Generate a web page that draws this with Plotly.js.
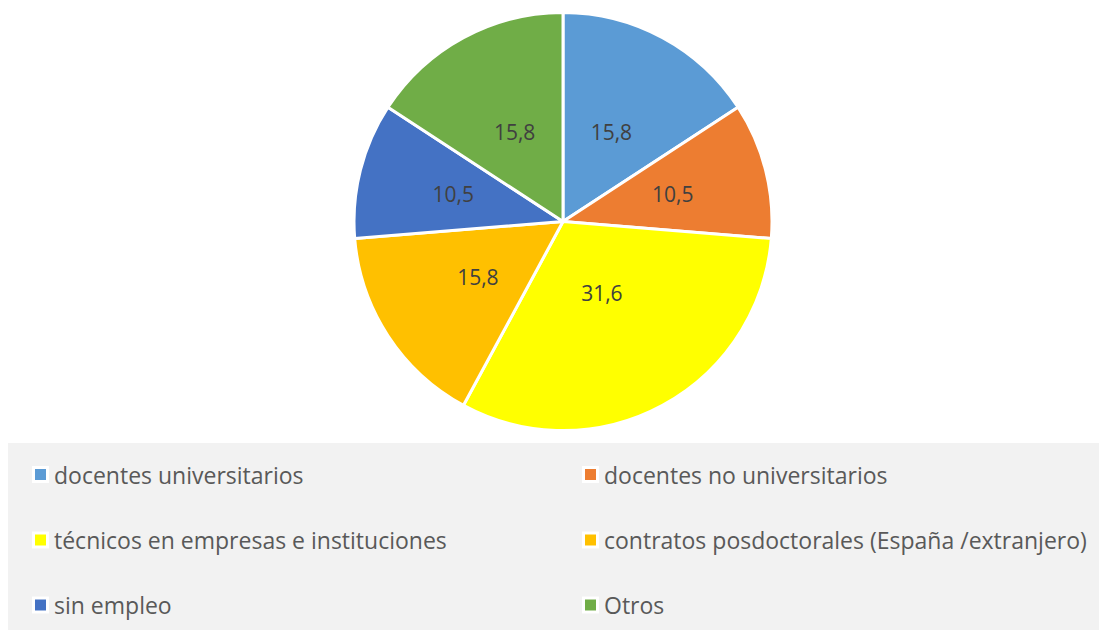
<!DOCTYPE html>
<html>
<head>
<meta charset="utf-8">
<script src="https://cdn.plot.ly/plotly-3.0.1.min.js"></script>
<style>html,body{margin:0;padding:0;background:#fff;}#chart{width:1099px;height:630px;}</style>
</head>
<body>
<div id="chart"></div>
<script>
const categories = [
  "docentes universitarios",
  "docentes no universitarios",
  "técnicos en empresas e instituciones",
  "contratos posdoctorales (España /extranjero)",
  "sin empleo",
  "Otros"
];
const values = [15.8, 10.5, 31.6, 15.8, 10.5, 15.8];
const colors = ["#5B9BD5", "#ED7D31", "#FFFF00", "#FFC000", "#4472C4", "#70AD47"];

const W = 1099, H = 630;
const FONT = "'Open Sans', Lato, sans-serif";
const CX = 563, CY = 221.5, R = 209, RL = 150;

// main pie: the slices
const pieTrace = {
  type: "pie",
  labels: categories,
  values: values,
  sort: false,
  direction: "clockwise",
  rotation: 0,
  marker: { colors: colors, line: { color: "#ffffff", width: 3 } },
  textinfo: "none",
  hoverinfo: "label+value",
  domain: { x: [(CX - R) / W, (CX + R) / W], y: [1 - (CY + R) / H, 1 - (CY - R) / H] },
  showlegend: false
};

// transparent overlay pie carrying the data labels closer to the centre (Excel style)
const labelTrace = {
  type: "pie",
  labels: categories,
  values: values,
  sort: false,
  direction: "clockwise",
  rotation: 0,
  marker: { colors: categories.map(() => "rgba(0,0,0,0)"), line: { width: 0 } },
  texttemplate: "%{value:.1f}",
  textposition: "inside",
  insidetextorientation: "horizontal",
  textfont: { family: FONT, size: 21, color: "#404040" },
  hoverinfo: "skip",
  domain: { x: [(CX - RL) / W, (CX + RL) / W], y: [1 - (CY + RL) / H, 1 - (CY - RL) / H] },
  showlegend: false
};

// legend built from categories/colors
const shapes = [{
  type: "rect", xref: "paper", yref: "paper",
  x0: 8 / W, x1: 1, y0: 0, y1: 1 - 443 / H,
  fillcolor: "#F2F2F2", line: { width: 0 }, layer: "below"
}];
const annotations = [];
const colX = [40.5, 590.5];
const rowY = [474.5, 540, 605];
categories.forEach((c, i) => {
  const cx = colX[i % 2], cy = rowY[Math.floor(i / 2)];
  shapes.push({
    type: "rect", xref: "paper", yref: "paper",
    x0: (cx - 8.5) / W, x1: (cx + 8.5) / W,
    y0: 1 - (cy + 8.5) / H, y1: 1 - (cy - 8.5) / H,
    fillcolor: "#ffffff", line: { width: 0 }
  });
  shapes.push({
    type: "rect", xref: "paper", yref: "paper",
    x0: (cx - 5.5) / W, x1: (cx + 5.5) / W,
    y0: 1 - (cy + 5.5) / H, y1: 1 - (cy - 5.5) / H,
    fillcolor: colors[i], line: { width: 0 }
  });
  annotations.push({
    xref: "paper", yref: "paper",
    x: (cx + 11) / W, y: 1 - cy / H,
    xanchor: "left", yanchor: "middle",
    text: c, showarrow: false,
    font: { family: FONT, size: 23, color: "#595959" }
  });
});

const layout = {
  width: W, height: H,
  margin: { l: 0, r: 0, t: 0, b: 0 },
  paper_bgcolor: "#ffffff",
  separators: ",.",
  showlegend: false,
  shapes: shapes,
  annotations: annotations
};

Plotly.newPlot("chart", [pieTrace, labelTrace], layout, { displayModeBar: false, staticPlot: true });
</script>
</body>
</html>
